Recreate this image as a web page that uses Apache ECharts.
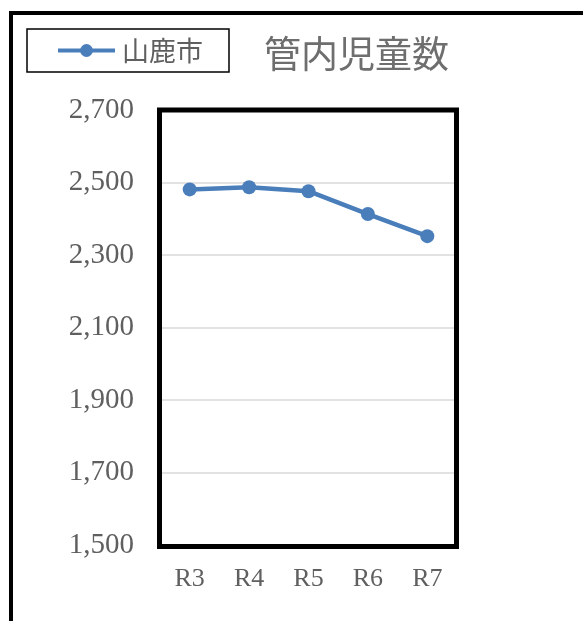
<!DOCTYPE html>
<html>
<head>
<meta charset="utf-8">
<script src="https://cdn.jsdelivr.net/npm/echarts@6/dist/echarts.min.js"></script>
<style>
html,body{margin:0;padding:0;background:#fff;}
#c{width:583px;height:621px;}
</style>
</head>
<body>
<div id="c"></div>
<script>
const categories = ['R3', 'R4', 'R5', 'R6', 'R7'];
const seriesName = '山鹿市';
const values = [2481, 2487, 2476, 2413, 2352];
const chartTitle = '管内児童数';
const yMin = 1500, yMax = 2700, yStep = 200;

const chart = echarts.init(document.getElementById('c'), null, {renderer: 'canvas'});
const serif = '"Liberation Serif", "DejaVu Serif", serif';
const cjk = '"Noto Sans CJK JP", "Noto Sans", sans-serif';
const textGray = '#5f5f5f';

chart.setOption({
  animation: false,
  backgroundColor: '#fff',
  title: {
    text: chartTitle,
    left: 264,
    top: 35,
    padding: 0,
    textStyle: {fontFamily: cjk, fontSize: 37, fontWeight: 'normal', color: '#6e6e6e'}
  },
  legend: {
    data: [seriesName],
    left: 27,
    top: 29,
    padding: [8, 26, 8, 29],
    borderColor: '#000',
    borderWidth: 1.5,
    itemWidth: 57,
    itemHeight: 16,
    itemGap: 0,
    lineStyle: {width: 4},
    textStyle: {fontFamily: cjk, fontSize: 27, color: textGray, padding: [0, 0, 0, 2]}
  },
  graphic: [{
    type: 'rect',
    z: -10,
    shape: {x: 11, y: 13, width: 800, height: 800},
    style: {fill: 'none', stroke: '#000', lineWidth: 4}
  }, {
    type: 'rect',
    z: 100,
    silent: true,
    shape: {x: 159.5, y: 110, width: 297, height: 436.5},
    style: {fill: 'none', stroke: '#000', lineWidth: 5}
  }],
  grid: {
    left: 160, right: 126, top: 110, bottom: 76,
    show: false
  },
  xAxis: {
    type: 'category',
    data: categories,
    boundaryGap: true,
    axisTick: {show: false},
    axisLine: {show: true, lineStyle: {color: '#bfbfbf', width: 1.5}},
    axisLabel: {margin: 21, fontFamily: serif, fontSize: 26, color: textGray}
  },
  yAxis: {
    type: 'value',
    min: yMin, max: yMax, interval: yStep,
    axisLine: {show: false},
    axisTick: {show: false},
    splitLine: {show: true, lineStyle: {color: '#d9d9d9', width: 1.5}},
    axisLabel: {
      margin: 26, fontFamily: serif, fontSize: 29, color: textGray,
      padding: [6, 0, 0, 0],
      formatter: v => v.toLocaleString('en-US')
    }
  },
  series: [{
    name: seriesName,
    type: 'line',
    data: values,
    symbol: 'circle',
    symbolSize: 14,
    itemStyle: {color: '#4a7ebb'},
    lineStyle: {color: '#4a7ebb', width: 4.5}
  }]
});
</script>
</body>
</html>
